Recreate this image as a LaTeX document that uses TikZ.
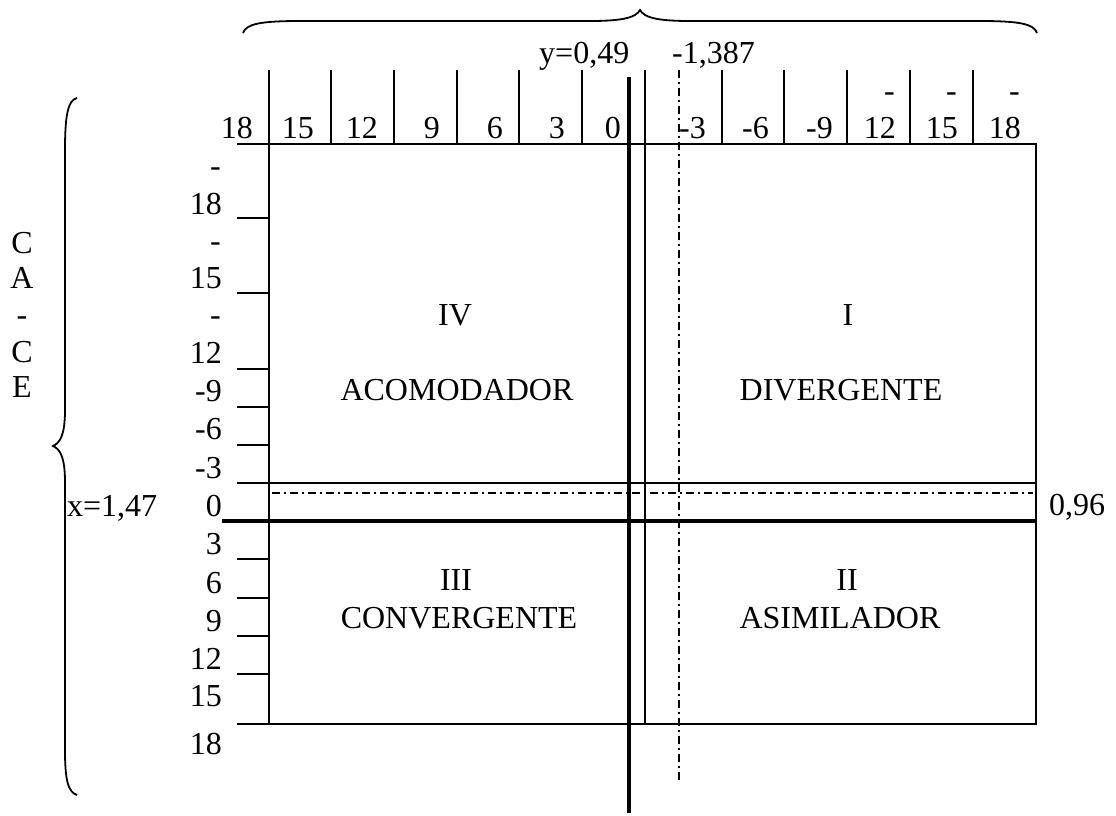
\documentclass[tikz,border=0pt]{standalone}
\usepackage{fontspec}
\setmainfont{Liberation Serif}
\begin{document}
\begin{tikzpicture}[x=1pt,y=-1pt,
  thinln/.style={line width=2pt},
  axisln/.style={line width=4pt},
  dashdotln/.style={line width=1.6pt, dash pattern=on 8pt off 4pt on 2pt off 4pt},
  bracel/.style={line width=1.8pt},
  lbl/.style={inner sep=0pt, font=\fontsize{32}{38}\selectfont},
  rlbl/.style={lbl, anchor=base east},
  llbl/.style={lbl, anchor=base west},
  clbl/.style={lbl, anchor=base}]
\useasboundingbox (0,0) rectangle (1116,815);
% box corners
\coordinate (tl) at (269,144);
\coordinate (tr) at (1036,144);
\coordinate (bl) at (269,724);
\coordinate (br) at (1036,724);
% main box
\draw[thinln] (237,144) -- (tr) -- (br) -- (237,724);
\draw[thinln] (269,70) -- (bl);
\draw[thinln] (645,70) -- (645,724);
% top ticks
\foreach \x in {331,394,457,519,582,722,784,847,910,973}
  \draw[thinln] (\x,70) -- (\x,144);
% left ticks
\foreach \y in {218,293,369,407,445,559,598,636,674}
  \draw[thinln] (237,\y) -- (269,\y);
\draw[thinln] (237,483) -- (1036,483);
% thick axes
\draw[axisln] (222,521) -- (1036,521);
\draw[axisln] (629,77) -- (629,813);
% dash-dot lines
\draw[dashdotln] (679,70) -- (679,782);
\draw[dashdotln] (272,493) -- (1033,493);
% braces
\draw[bracel] (243,33) .. controls (246,24) and (260,21) .. (300,21) -- (590,21)
  .. controls (625,21) and (636,17) .. (640,10)
  .. controls (644,17) and (655,21) .. (690,21) -- (980,21)
  .. controls (1020,21) and (1034,24) .. (1037,33);
\draw[bracel] (77,98) .. controls (68,100) and (65,115) .. (65,150) -- (65,410)
  .. controls (65,435) and (60,443) .. (53,446)
  .. controls (60,449) and (65,457) .. (65,482) -- (65,750)
  .. controls (65,780) and (68,792) .. (77,795);
% top numbers
\node[rlbl] (t18) at (253,138) {18};
\node[rlbl] (t15) at (314,138) {15};
\node[rlbl] (t12) at (378,138) {12};
\node[rlbl] (t9)  at (440,138) {9};
\node[rlbl] (t6)  at (503,138) {6};
\node[rlbl] (t3)  at (565,138) {3};
\node[rlbl] (t0)  at (621,138) {0};
\node[rlbl] (tm3) at (706,138) {-3};
\node[rlbl] (tm6) at (769,138) {-6};
\node[rlbl] (tm9) at (833,138) {-9};
\node[rlbl] (tm12) at (896,138) {12};
\node[rlbl] (tm12h) at (895,101) {-};
\node[rlbl] (tm15) at (958,138) {15};
\node[rlbl] (tm15h) at (957,101) {-};
\node[rlbl] (tm18) at (1021,138) {18};
\node[rlbl] (tm18h) at (1020,101) {-};
% left numbers
\node[rlbl] (lh18) at (221,176) {-};
\node[rlbl] (l18a) at (222,214) {18};
\node[rlbl] (lh15) at (221,251) {-};
\node[rlbl] (l15a) at (222,288) {15};
\node[rlbl] (lh12) at (221,325) {-};
\node[rlbl] (l12a) at (222,363) {12};
\node[rlbl] (lm9) at (222,401) {-9};
\node[rlbl] (lm6) at (222,439) {-6};
\node[rlbl] (lm3) at (222,478) {-3};
\node[rlbl] (l0) at (222,516) {0};
\node[rlbl] (l3) at (222,554) {3};
\node[rlbl] (l6) at (222,593) {6};
\node[rlbl] (l9) at (222,631) {9};
\node[rlbl] (l12) at (222,669) {12};
\node[rlbl] (l15) at (222,706) {15};
\node[rlbl] (l18) at (222,754) {18};
% axis values
\node[llbl] (yval) at (539,63) {y=0,49};
\node[llbl] (dval) at (672,63) {-1,387};
\node[llbl] (xval) at (67,516) {x=1,47};
\node[llbl] (hval) at (1049,515) {0,96};
% vertical title
\node[clbl] (c1) at (22,253) {C};
\node[clbl] (c2) at (22,288) {A};
\node[clbl] (c3) at (22,325) {-};
\node[clbl] (c4) at (22,362) {C};
\node[clbl] (c5) at (22,397) {E};
% quadrants
\node[clbl] (q4) at (455,325) {IV};
\node[clbl] (q4n) at (457,400) {ACOMODADOR};
\node[clbl] (q1) at (848,325) {I};
\node[clbl] (q1n) at (841,400) {DIVERGENTE};
\node[clbl] (q3) at (456,590) {III};
\node[clbl] (q3n) at (459,628) {CONVERGENTE};
\node[clbl] (q2) at (847,590) {II};
\node[clbl] (q2n) at (840,628) {ASIMILADOR};
\end{tikzpicture}
\end{document}
